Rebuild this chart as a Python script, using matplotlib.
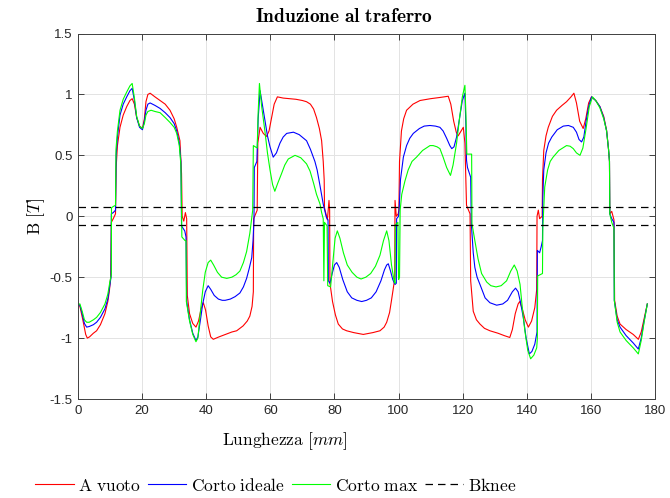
import matplotlib
matplotlib.use('Agg')
from matplotlib import pyplot as plt

plt.rcParams['mathtext.fontset'] = 'cm'
plt.rcParams['font.family'] = ['Liberation Sans', 'DejaVu Sans']

# air-gap flux density along the gap, no-load / ideal short / max short
x_vuoto = [0.0, 0.6, 1.5, 2.4, 2.9, 3.6, 4.8, 5.8, 7.0, 8.4, 9.3, 9.8, 10.2, 10.4, 11.0, 11.7,
           11.9, 12.3, 13.1, 14.1, 15.2, 16.2, 16.9, 17.6, 18.3, 19.2, 20.1, 20.7, 21.2, 21.8,
           22.5, 24.0, 25.6, 27.2, 28.7, 30.0, 30.8, 31.8, 32.3, 32.5, 33.0, 33.5, 33.9, 34.1,
           34.8, 35.8, 36.8, 37.6, 38.4, 39.1, 39.8, 40.6, 41.4, 42.2, 44.0, 46.0, 48.0, 49.5,
           51.5, 52.8, 53.6, 54.3, 54.7, 54.8, 55.9, 56.1, 56.8, 57.8, 58.8, 59.6, 60.4, 61.2,
           62.2, 64.0, 66.0, 68.0, 70.0, 71.3, 72.5, 73.5, 74.4, 75.3, 76.0, 76.5, 76.8, 76.9,
           77.8, 78.3, 78.5, 78.6, 79.4, 80.3, 81.2, 82.5, 83.8, 86.0, 89.0, 92.0, 94.2, 95.5,
           96.3, 97.2, 97.8, 98.6, 98.8, 98.9, 99.3, 99.9, 100.1, 100.3, 100.9, 101.6, 102.5,
           104.5, 106.7, 110.0, 112.9, 115.5, 116.3, 117.2, 118.0, 118.6, 119.5, 120.2, 120.7,
           121.0, 121.2, 122.3, 122.5, 123.3, 124.3, 125.4, 126.8, 128.5, 131.0, 133.0, 134.7,
           135.5, 136.4, 137.3, 137.8, 138.6, 139.5, 140.5, 141.5, 142.5, 143.1, 143.2, 143.6,
           144.0, 144.8, 144.9, 145.3, 146.0, 146.7, 148.0, 149.3, 151.0, 152.4, 153.8, 154.7,
           155.5, 156.5, 157.6, 158.4, 159.3, 160.2, 161.5, 162.8, 164.0, 164.9, 165.5, 165.8,
           165.9, 166.5, 167.2, 167.4, 168.2, 169.1, 171.0, 173.2, 174.8, 175.7, 176.6, 177.6]
B_vuoto = [-0.72, -0.74, -0.85, -0.97, -1.00, -0.99, -0.96, -0.94, -0.89, -0.80, -0.70, -0.61,
           -0.50, -0.05, -0.02, 0.02, 0.40, 0.58, 0.73, 0.83, 0.90, 0.95, 0.965, 0.92, 0.81, 0.74,
           0.72, 0.80, 0.94, 1.00, 1.01, 0.98, 0.95, 0.92, 0.87, 0.80, 0.73, 0.62, 0.35, 0.0,
           -0.04, 0.03, -0.02, -0.65, -0.80, -0.88, -0.91, -0.86, -0.76, -0.71, -0.77, -0.90,
           -0.99, -1.01, -0.99, -0.97, -0.95, -0.94, -0.90, -0.86, -0.82, -0.74, -0.62, -0.02,
           0.05, 0.60, 0.73, 0.68, 0.655, 0.70, 0.81, 0.92, 0.98, 0.97, 0.965, 0.96, 0.95, 0.94,
           0.92, 0.88, 0.81, 0.72, 0.62, 0.45, 0.30, 0.07, -0.03, 0.13, 0.05, -0.55, -0.70, -0.81,
           -0.885, -0.925, -0.94, -0.955, -0.97, -0.955, -0.94, -0.91, -0.87, -0.79, -0.69, -0.55,
           -0.50, 0.13, 0.0, 0.02, 0.05, 0.45, 0.70, 0.80, 0.87, 0.92, 0.95, 0.965, 0.975, 0.985,
           0.92, 0.78, 0.69, 0.66, 0.70, 0.73, 0.60, 0.30, 0.09, 0.02, -0.53, -0.78, -0.85,
           -0.885, -0.92, -0.94, -0.96, -0.98, -0.995, -0.93, -0.80, -0.72, -0.70, -0.76, -0.85,
           -0.91, -0.86, -0.75, -0.60, 0.0, 0.05, -0.02, 0.0, 0.30, 0.54, 0.66, 0.73, 0.82, 0.87,
           0.91, 0.94, 0.98, 1.01, 0.93, 0.78, 0.72, 0.80, 0.93, 0.98, 0.95, 0.90, 0.82, 0.705,
           0.55, 0.45, 0.02, 0.04, -0.03, -0.69, -0.82, -0.885, -0.93, -0.97, -1.01, -0.95, -0.84,
           -0.72]

x_ideale = [0.0, 0.6, 1.3, 2.0, 2.7, 3.5, 4.8, 5.8, 7.0, 8.4, 9.3, 10.0, 10.3, 10.4, 11.0, 11.7,
            11.9, 12.3, 13.1, 14.1, 15.2, 16.2, 16.9, 17.6, 18.3, 19.2, 20.1, 20.7, 21.2, 21.8,
            22.5, 24.0, 25.6, 27.2, 28.7, 30.0, 30.8, 31.6, 32.1, 32.3, 33.3, 33.7, 33.9, 34.8,
            35.8, 36.8, 37.4, 38.2, 38.9, 39.7, 40.6, 41.4, 42.5, 43.8, 45.0, 45.9, 47.5, 49.0,
            50.5, 51.6, 52.6, 53.4, 54.2, 54.6, 54.9, 55.0, 55.8, 56.2, 56.8, 57.5, 58.3, 59.1,
            59.9, 60.9, 61.9, 63.0, 64.0, 65.1, 67.2, 69.0, 71.3, 72.5, 73.9, 74.6, 75.5, 76.5,
            77.5, 78.0, 78.1, 78.6, 79.3, 80.0, 80.7, 81.5, 82.6, 84.0, 85.4, 87.0, 88.5, 90.0,
            91.5, 93.0, 94.5, 95.6, 96.3, 96.8, 97.5, 98.2, 98.9, 99.3, 99.4, 100.0, 100.2, 100.6,
            101.5, 102.5, 103.5, 104.6, 106.5, 108.0, 109.8, 111.5, 112.9, 113.9, 115.0, 116.0,
            116.6, 117.3, 118.1, 119.0, 119.9, 120.7, 121.0, 121.2, 121.5, 122.5, 122.7, 123.3,
            123.8, 124.5, 125.4, 127.0, 128.5, 130.6, 132.5, 134.0, 135.5, 136.5, 137.3, 138.0,
            138.9, 139.8, 140.8, 141.6, 142.5, 143.2, 143.3, 144.0, 144.5, 144.9, 145.0, 145.3,
            146.0, 146.8, 147.8, 149.5, 151.4, 153.0, 154.5, 155.5, 156.3, 157.1, 157.8, 158.5,
            159.3, 160.2, 161.5, 162.8, 164.0, 164.9, 165.5, 165.8, 165.9, 166.5, 167.2, 167.3,
            168.2, 169.1, 171.0, 173.2, 174.8, 175.7, 176.6, 177.6]
B_ideale = [-0.72, -0.73, -0.80, -0.88, -0.91, -0.905, -0.89, -0.87, -0.83, -0.76, -0.68, -0.55,
            -0.50, 0.02, 0.03, 0.05, 0.50, 0.65, 0.83, 0.92, 0.98, 1.03, 1.05, 0.95, 0.81, 0.73,
            0.71, 0.78, 0.87, 0.92, 0.93, 0.91, 0.885, 0.85, 0.81, 0.76, 0.70, 0.60, 0.45, -0.08,
            -0.12, -0.17, -0.70, -0.85, -0.96, -1.02, -0.99, -0.85, -0.72, -0.62, -0.57, -0.60,
            -0.65, -0.68, -0.69, -0.69, -0.68, -0.66, -0.63, -0.58, -0.51, -0.43, -0.34, -0.20,
            -0.03, 0.40, 0.45, 0.80, 1.03, 0.92, 0.79, 0.66, 0.57, 0.485, 0.52, 0.60, 0.65, 0.68,
            0.69, 0.67, 0.62, 0.55, 0.45, 0.38, 0.25, 0.10, -0.01, -0.03, -0.53, -0.55, -0.47,
            -0.40, -0.38, -0.42, -0.52, -0.62, -0.67, -0.69, -0.70, -0.69, -0.67, -0.62, -0.53,
            -0.44, -0.40, -0.39, -0.45, -0.52, -0.56, -0.55, -0.02, 0.0, 0.07, 0.30, 0.485, 0.58,
            0.64, 0.68, 0.72, 0.74, 0.745, 0.74, 0.73, 0.70, 0.64, 0.58, 0.555, 0.57, 0.65, 0.80,
            0.95, 1.01, 0.75, 0.46, 0.40, 0.32, -0.06, -0.30, -0.42, -0.50, -0.56, -0.67, -0.71,
            -0.73, -0.72, -0.69, -0.62, -0.59, -0.62, -0.70, -0.83, -1.00, -1.13, -1.11, -1.05,
            -0.95, -0.28, -0.30, -0.25, -0.20, 0.15, 0.38, 0.52, 0.60, 0.65, 0.71, 0.74, 0.745,
            0.73, 0.69, 0.63, 0.61, 0.65, 0.78, 0.90, 0.98, 0.95, 0.90, 0.81, 0.70, 0.55, 0.45,
            0.02, -0.02, -0.05, -0.69, -0.85, -0.91, -0.98, -1.04, -1.09, -1.00, -0.86, -0.72]

x_max = [0.0, 0.6, 1.3, 2.0, 2.7, 3.5, 4.8, 5.8, 7.0, 8.4, 9.3, 10.0, 10.4, 10.45, 11.0, 11.7,
         11.85, 12.3, 13.1, 14.1, 15.2, 16.2, 16.9, 17.6, 18.3, 19.2, 20.1, 20.7, 21.2, 21.8,
         22.8, 24.0, 25.6, 27.2, 28.7, 30.0, 30.8, 31.6, 32.1, 32.4, 33.4, 33.7, 33.8, 34.8,
         35.8, 36.8, 37.4, 38.2, 38.9, 39.7, 40.6, 41.4, 42.3, 43.5, 44.8, 46.4, 48.0, 49.3,
         50.5, 51.6, 52.6, 53.6, 54.5, 54.7, 55.9, 56.2, 56.6, 57.3, 58.3, 59.1, 59.9, 60.7,
         61.4, 62.3, 63.5, 64.5, 65.6, 67.7, 69.5, 71.3, 72.4, 73.5, 74.4, 75.5, 76.0, 76.5,
         76.7, 76.9, 77.7, 77.9, 78.8, 79.5, 80.2, 80.9, 81.7, 82.8, 84.0, 85.5, 87.0, 88.3,
         89.8, 91.3, 92.8, 94.2, 95.3, 96.3, 97.0, 97.8, 98.6, 98.9, 99.0, 99.8, 100.0, 100.3,
         100.5, 101.0, 102.0, 103.0, 104.2, 105.6, 107.5, 109.8, 110.8, 112.0, 112.9, 113.9,
         115.0, 116.2, 117.0, 118.1, 119.0, 119.9, 120.7, 121.0, 121.3, 122.8, 122.9, 123.8,
         124.8, 125.9, 127.5, 128.8, 130.4, 132.0, 133.7, 135.0, 136.1, 137.0, 137.9, 138.6,
         139.4, 140.3, 141.2, 142.2, 143.1, 143.3, 143.4, 144.9, 145.0, 145.6, 146.5, 147.3,
         148.2, 150.0, 152.4, 153.5, 154.5, 155.5, 156.6, 157.5, 158.5, 159.5, 160.5, 161.5,
         162.8, 164.0, 164.9, 165.5, 165.8, 165.9, 166.5, 167.2, 167.3, 168.2, 169.1, 171.0,
         173.2, 174.8, 175.7, 176.6, 177.6]
B_max = [-0.72, -0.72, -0.78, -0.85, -0.87, -0.87, -0.85, -0.83, -0.79, -0.72, -0.64, -0.53,
         -0.48, 0.07, 0.08, 0.09, 0.55, 0.70, 0.87, 0.96, 1.02, 1.07, 1.09, 0.97, 0.82, 0.74,
         0.72, 0.76, 0.83, 0.86, 0.87, 0.86, 0.85, 0.81, 0.77, 0.73, 0.68, 0.58, 0.42, -0.17,
         -0.20, -0.20, -0.70, -0.86, -0.97, -1.03, -1.00, -0.78, -0.61, -0.46, -0.38, -0.36,
         -0.40, -0.46, -0.50, -0.51, -0.50, -0.48, -0.45, -0.38, -0.29, -0.14, 0.05, 0.58, 0.56,
         0.85, 1.09, 0.90, 0.70, 0.52, 0.38, 0.26, 0.205, 0.27, 0.35, 0.42, 0.47, 0.50, 0.48,
         0.43, 0.37, 0.27, 0.18, 0.10, 0.03, -0.02, -0.53, -0.05, -0.08, -0.57, -0.58, -0.38,
         -0.18, -0.12, -0.18, -0.30, -0.40, -0.46, -0.50, -0.515, -0.50, -0.47, -0.41, -0.32,
         -0.20, -0.12, -0.20, -0.40, -0.53, -0.55, -0.07, -0.05, -0.52, -0.50, 0.05, 0.18, 0.29,
         0.38, 0.45, 0.485, 0.54, 0.58, 0.58, 0.57, 0.555, 0.485, 0.40, 0.335, 0.42, 0.60, 0.80,
         0.98, 1.075, 0.85, 0.51, 0.51, -0.06, -0.20, -0.35, -0.47, -0.54, -0.57, -0.58, -0.57,
         -0.53, -0.45, -0.40, -0.45, -0.56, -0.75, -0.94, -1.10, -1.17, -1.14, -1.08, -1.00,
         -0.49, -0.47, -0.10, 0.24, 0.38, 0.45, 0.485, 0.54, 0.58, 0.575, 0.555, 0.52, 0.50,
         0.56, 0.72, 0.90, 0.98, 0.95, 0.89, 0.80, 0.70, 0.55, 0.45, 0.02, -0.05, -0.10, -0.69,
         -0.87, -0.95, -1.02, -1.08, -1.13, -1.02, -0.87, -0.72]

B_knee = 0.072
x_lim = [0, 180]
y_lim = [-1.5, 1.5]

fig = plt.figure(figsize=(6.7, 4.98), dpi=100)
ax = fig.add_axes([78/670, 1 - 399/498, 577/670, 365.5/498])

ax.plot(x_vuoto, B_vuoto, color='#ff0000', lw=0.8, label=r'$\mathrm{A\ vuoto}$')
ax.plot(x_ideale, B_ideale, color='#0000ff', lw=0.8, label=r'$\mathrm{Corto\ ideale}$')
ax.plot(x_max, B_max, color='#00ff00', lw=0.8, label=r'$\mathrm{Corto\ max}$')
ax.plot(x_lim, [B_knee, B_knee], color='k', lw=0.9, dashes=(6, 4), label=r'$\mathrm{Bknee}$')
ax.plot(x_lim, [-B_knee, -B_knee], color='k', lw=0.9, dashes=(6, 4))

ax.set_xlim(x_lim)
ax.set_ylim(y_lim)
ax.set_xticks(range(0, 181, 20))
ax.set_yticks([-1.5, -1, -0.5, 0, 0.5, 1, 1.5])
ax.set_yticklabels(['-1.5', '-1', '-0.5', '0', '0.5', '1', '1.5'])
ax.grid(True, color='#e3e3e3', lw=0.7)
ax.set_axisbelow(True)
ax.tick_params(direction='in', top=True, right=True, length=4, width=0.6,
               colors='#262626', labelsize=9.5, pad=4)
for s in ax.spines.values():
    s.set_color('#404040')
    s.set_linewidth(0.7)

ax.set_title(r'$\mathbf{Induzione\ al\ traferro}$', fontsize=14, pad=8, x=(344 - 78) / 577)
ax.set_xlabel(r'$\mathrm{Lunghezza}\ [mm]$', fontsize=12.5, labelpad=2)
ax.xaxis.set_label_coords((285 - 78) / 577, -0.085)
ax.set_ylabel(r'$\mathrm{B}\ [T]$', fontsize=12.5, labelpad=2)

fig.legend(loc='center left', bbox_to_anchor=(35/670, 1 - 485/498), ncol=4, frameon=False,
           fontsize=12.6, handlelength=2.2, handletextpad=0.25, columnspacing=0.4,
           borderaxespad=0, borderpad=0)

plt.savefig('out.png', dpi=100)
